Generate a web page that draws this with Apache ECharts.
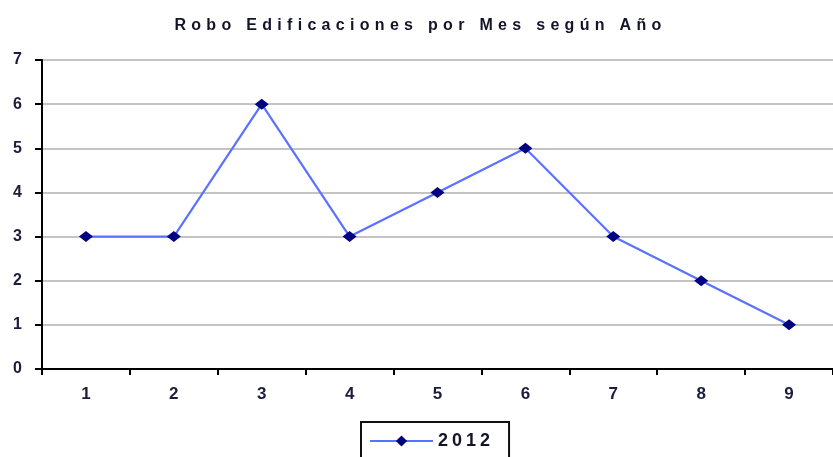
<!DOCTYPE html>
<html><head><meta charset="utf-8">
<script src="https://cdn.jsdelivr.net/npm/echarts@6/dist/echarts.min.js"></script>
<style>html,body{margin:0;padding:0;background:#fff}#c{width:833px;height:457px}</style>
</head><body><div id="c"></div>
<script>
const titleText = "Robo Edificaciones por Mes según Año";
const categories = ["1","2","3","4","5","6","7","8","9"];
const seriesName = "2012";
const values = [3,3,6,3,4,5,3,2,1];
const yTicks = [0,1,2,3,4,5,6,7];

// Tracked (letter-spaced) lettering as in the reference, for title and legend text
const TRACKING = {};
TRACKING[titleText] = 5.3;
TRACKING[seriesName] = 4;
const origFillText = CanvasRenderingContext2D.prototype.fillText;
CanvasRenderingContext2D.prototype.fillText = function (t, x, y, m) {
  if (Object.prototype.hasOwnProperty.call(TRACKING, t) && 'letterSpacing' in this) {
    this.save();
    const w1 = this.measureText(t).width;
    this.letterSpacing = TRACKING[t] + 'px';
    const w2 = this.measureText(t).width;
    const extra = w2 - w1;
    let nx = x;
    if (t === titleText) {
      if (this.textAlign === 'center') nx = x + 4;
      else if (this.textAlign === 'right' || this.textAlign === 'end') nx = x + extra / 2 + 4;
      else nx = x - extra / 2 + 4;
    }
    origFillText.call(this, t, nx, y);
    this.restore();
    return;
  }
  return origFillText.apply(this, arguments);
};

const FONT = '"Liberation Sans",Arial,sans-serif';
const LABEL_COLOR = '#1c1c3c';
const chart = echarts.init(document.getElementById('c'), null, {renderer:'canvas'});
chart.setOption({
  animation:false,
  backgroundColor:'#fff',
  title:{text:titleText,left:'center',top:13,textStyle:{fontFamily:FONT,fontSize:16,fontWeight:'bold',color:'#141428'}},
  grid:{left:42,top:60,width:796,height:309,containLabel:false},
  xAxis:{type:'category',data:categories,boundaryGap:true,
    axisLine:{lineStyle:{color:'#000',width:2}},
    axisTick:{show:true,length:6,lineStyle:{color:'#000',width:2},alignWithLabel:false},
    axisLabel:{margin:17,fontFamily:FONT,fontSize:17,fontWeight:'bold',color:LABEL_COLOR},
    splitLine:{show:false}},
  yAxis:{type:'value',min:yTicks[0],max:yTicks[yTicks.length-1],interval:1,
    axisLine:{show:true,lineStyle:{color:'#000',width:2}},
    axisTick:{show:true,length:7,lineStyle:{color:'#000',width:2}},
    axisLabel:{margin:20,fontFamily:FONT,fontSize:16,fontWeight:'bold',color:LABEL_COLOR},
    splitLine:{show:true,lineStyle:{color:'#c4c4c4',width:2}}},
  legend:{data:[seriesName],left:361,top:422,itemWidth:63,itemHeight:14,
    padding:[10,31,13,8],borderColor:'#111',borderWidth:2,
    textStyle:{fontFamily:FONT,fontSize:18,fontWeight:'bold',color:'#141428'}},
  series:[{name:seriesName,type:'line',data:values,symbol:'diamond',symbolSize:[14,11],
    lineStyle:{color:'#5a72ff',width:2.2},itemStyle:{color:'#000080'}}]
});
</script></body></html>
